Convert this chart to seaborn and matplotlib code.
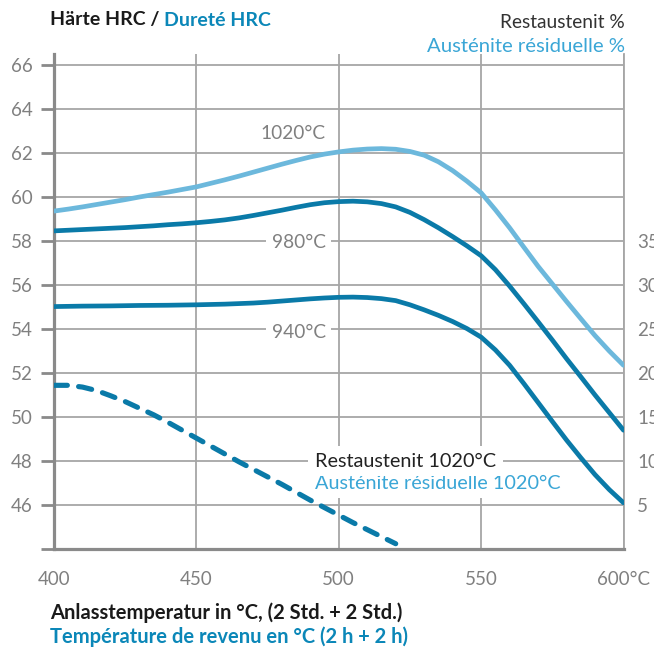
import matplotlib
matplotlib.use("Agg")
import pandas as pd
import seaborn as sns
import matplotlib.pyplot as plt

# hardness curves (HRC) vs tempering temperature, per hardening temperature
temp_1020 = [400, 405, 410, 415, 420, 425, 430, 435, 440, 445, 450, 455, 460, 465,
             470, 475, 480, 485, 490, 495, 500, 505, 510, 515, 520, 525, 530, 535,
             540, 545, 550, 555, 560, 565, 570, 575, 580, 585, 590, 595, 600]
hrc_1020 = [59.36, 59.45, 59.55, 59.66, 59.77, 59.88, 60.0, 60.11, 60.22, 60.34,
            60.46, 60.62, 60.78, 60.95, 61.13, 61.31, 61.49, 61.66, 61.82, 61.95,
            62.05, 62.13, 62.18, 62.2, 62.17, 62.07, 61.9, 61.6, 61.2, 60.72, 60.19,
            59.42, 58.6, 57.72, 56.85, 56.05, 55.25, 54.47, 53.7, 53.0, 52.35]

temp_980 = [400, 405, 410, 415, 420, 425, 430, 435, 440, 445, 450, 455, 460, 465,
            470, 475, 480, 485, 490, 495, 500, 505, 510, 515, 520, 525, 530, 535,
            540, 545, 550, 555, 560, 565, 570, 575, 580, 585, 590, 595, 600]
hrc_980 = [58.46, 58.49, 58.52, 58.55, 58.58, 58.61, 58.65, 58.69, 58.74, 58.78,
           58.83, 58.89, 58.96, 59.05, 59.16, 59.28, 59.4, 59.53, 59.65, 59.74,
           59.79, 59.81, 59.78, 59.7, 59.55, 59.3, 58.97, 58.6, 58.2, 57.78, 57.33,
           56.7, 55.95, 55.15, 54.33, 53.5, 52.65, 51.83, 51.0, 50.2, 49.4]

temp_940 = [400, 410, 420, 430, 440, 450, 460, 470, 475, 480, 485, 490, 495, 500,
            505, 510, 515, 520, 525, 530, 535, 540, 545, 550, 555, 560, 565, 570,
            575, 580, 585, 590, 595, 600]
hrc_940 = [55.02, 55.04, 55.05, 55.07, 55.08, 55.1, 55.13, 55.18, 55.22, 55.27,
           55.32, 55.37, 55.41, 55.44, 55.45, 55.43, 55.38, 55.29, 55.1, 54.87,
           54.62, 54.34, 54.02, 53.63, 53.05, 52.35, 51.52, 50.66, 49.8, 48.95,
           48.15, 47.38, 46.7, 46.1]

# retained austenite (%) after hardening from 1020°C
temp_ra = [400, 405, 410, 415, 420, 425, 430, 435, 440, 445, 450, 455, 460, 465,
           470, 475, 480, 485, 490, 495, 500, 505, 510, 515, 520]
ra_1020 = [18.6, 18.6, 18.4, 18.0, 17.4, 16.75, 16.0, 15.25, 14.4, 13.5, 12.6, 11.7,
           10.8, 9.9, 9.05, 8.2, 7.35, 6.45, 5.55, 4.7, 3.85, 3.0, 2.2, 1.4, 0.6]

x_ticks = [400, 450, 500, 550, 600]
x_labels = ["400", "450", "500", "550", "600°C"]
y_ticks = list(range(44, 67, 2))
y_labels = [""] + [str(v) for v in y_ticks[1:]]
ra_ticks = [5, 10, 15, 20, 25, 30, 35]

DARK = "#0a7aa8"
LIGHT = "#6cb8dc"
BLUE_TXT = "#0b87b8"
LIGHT_TXT = "#3aa6d6"
GRAY = "#8a8a8a"
GRID = "#a6a6a6"

sns.set_style("white")
plt.rcParams["font.family"] = ["Lato", "DejaVu Sans"]

fig = plt.figure(figsize=(6.54, 6.51), dpi=100)
ax = fig.add_axes([54 / 654, 1 - 549 / 651, (623.5 - 54) / 654, (549 - 54) / 651])

df = pd.concat([
    pd.DataFrame({"temp": temp_1020, "hrc": hrc_1020, "curve": "1020°C"}),
    pd.DataFrame({"temp": temp_980, "hrc": hrc_980, "curve": "980°C"}),
    pd.DataFrame({"temp": temp_940, "hrc": hrc_940, "curve": "940°C"}),
])
sns.lineplot(data=df, x="temp", y="hrc", hue="curve",
             palette={"1020°C": LIGHT, "980°C": DARK, "940°C": DARK},
             lw=3.4, legend=False, ax=ax, estimator=None,
             solid_capstyle="round", solid_joinstyle="round", zorder=3)

ax.set_xlim(400, 600)
ax.set_ylim(44, 66.5)
ax.set_xticks(x_ticks)
ax.set_xticklabels(x_labels)
ax.set_yticks(y_ticks)
ax.set_yticklabels(y_labels)
ax.set_xlabel("")
ax.set_ylabel("")
ax.grid(True, color=GRID, lw=1.3)
ax.set_axisbelow(True)
ax.spines["top"].set_visible(False)
for s in ["left", "bottom"]:
    ax.spines[s].set_color(GRAY)
    ax.spines[s].set_linewidth(2.3)
ax.spines["right"].set_color(GRID)
ax.spines["right"].set_linewidth(1.3)
ax.tick_params(color=GRAY, width=2, length=9.5, labelcolor="#808080",
               labelsize=13.5, pad=6)

# curve labels
lbl = dict(ha="right", va="center", color="#808080", fontsize=13.8,
           bbox=dict(fc="white", ec="none", pad=4))
ax.text(495.5, 62.9, "1020°C", **lbl)
ax.text(495.5, 57.95, "980°C", **lbl)
ax.text(495.5, 53.85, "940°C", **lbl)

# retained austenite on the right axis
ax2 = ax.twinx()
sns.lineplot(x=temp_ra, y=ra_1020, ax=ax2, color=DARK, lw=3.7,
             linestyle=(0, (2.6, 2.2)), dash_capstyle="round")
ax2.set_ylim(0, 56.25)
ax2.set_yticks(ra_ticks)
ax2.set_ylabel("")
ax2.grid(False)
for s in ax2.spines.values():
    s.set_visible(False)
ax2.tick_params(axis="y", length=0, pad=10, labelcolor="#808080", labelsize=13.5)

box = dict(fc="white", ec="none", pad=5)
ax.text(491.7, 47.0, "Austénite résiduelle 1020°C", color=LIGHT_TXT,
        fontsize=14.3, va="center", ha="left", bbox=box, zorder=4)
ax.text(491.7, 48.0, "Restaustenit 1020°C", color="#222222",
        fontsize=14.3, va="center", ha="left", bbox=box, zorder=5)

# header and footer texts
t1 = fig.text(50 / 654, 1 - 20 / 651, "Härte HRC / ", fontsize=14,
              fontweight="bold", color="#1a1a1a", va="center", ha="left")
fig.canvas.draw()
bb = t1.get_window_extent()
fig.text(bb.x1 / 654, 1 - 20 / 651, "Dureté HRC", fontsize=14,
         fontweight="bold", color=BLUE_TXT, va="center", ha="left")
fig.text(625 / 654, 1 - 22 / 651, "Restaustenit %", fontsize=13.8,
         color="#333333", va="center", ha="right")
fig.text(625 / 654, 1 - 47 / 651, "Austénite résiduelle %", fontsize=14.6,
         color=LIGHT_TXT, va="center", ha="right")
fig.text(50 / 654, 1 - 613 / 651, "Anlasstemperatur in °C, (2 Std. + 2 Std.)",
         fontsize=14.5, fontweight="bold", color="#1a1a1a", va="center", ha="left")
fig.text(50 / 654, 1 - 637 / 651, "Température de revenu en °C (2 h + 2 h)",
         fontsize=14.5, fontweight="bold", color=BLUE_TXT, va="center", ha="left")

fig.savefig("out.png", dpi=100)
